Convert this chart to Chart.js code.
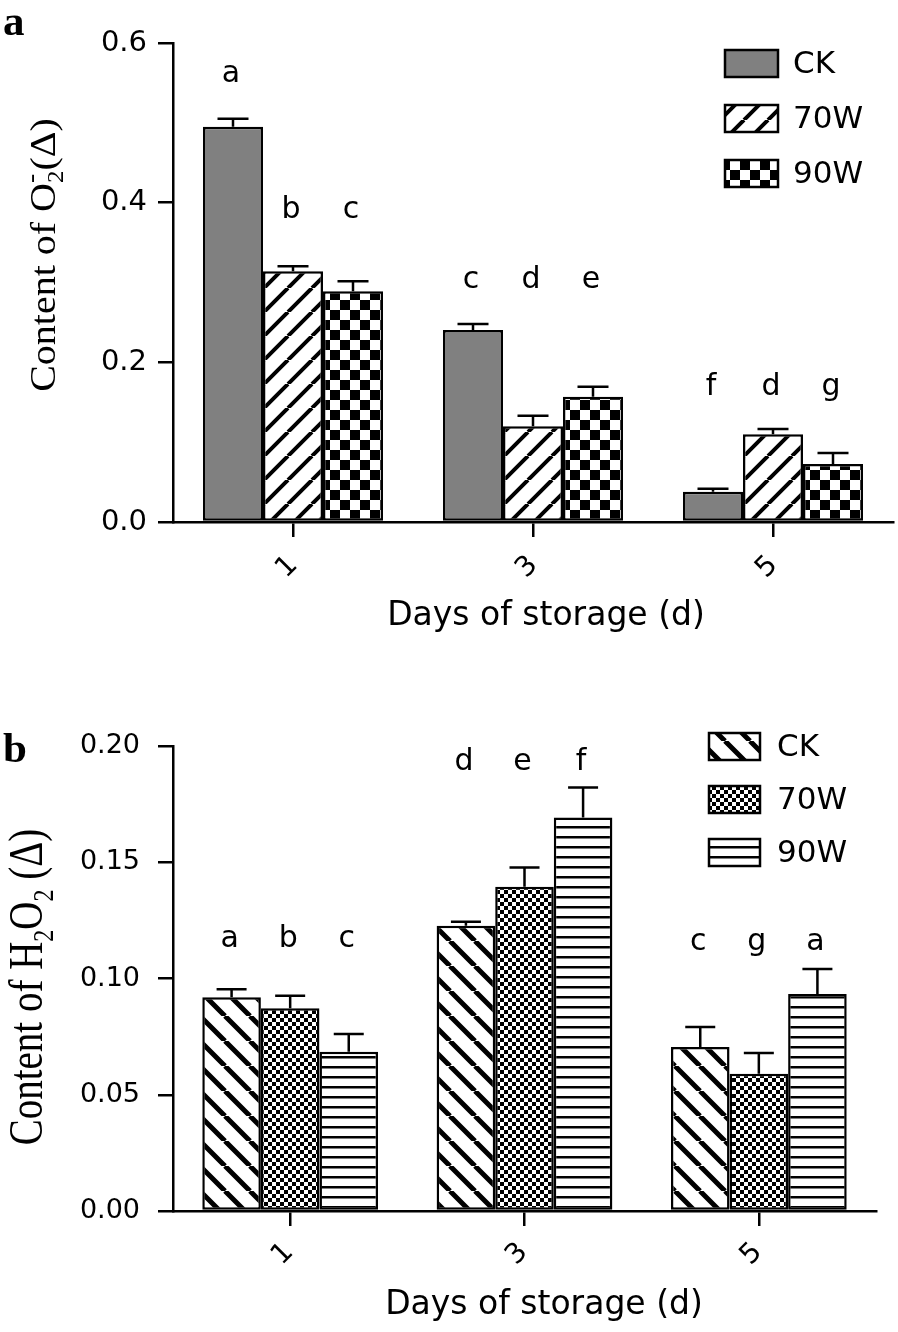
<!DOCTYPE html>
<html><head><meta charset="utf-8">
<script src="https://cdn.jsdelivr.net/npm/chart.js@4.4.0/dist/chart.umd.min.js"></script>
<style>
html,body{margin:0;padding:0;background:#fff;}
#wrap{position:relative;width:898px;height:1332px;overflow:hidden;}
.box{position:absolute;left:0;width:898px;height:666px;}
</style></head><body>
<div id="wrap">
<div class="box" style="top:0"><canvas id="ca"></canvas></div>
<div class="box" style="top:666px"><canvas id="cb"></canvas></div>
</div>
<script>
// ---------- data ----------
const categories = ['1', '3', '5'];
const seriesNames = ['CK', '70W', '90W'];

// panel a : O2- content
const a_CK = [0.495, 0.2405, 0.038];
const a_70W = [0.314, 0.120, 0.110];
const a_90W = [0.289, 0.157, 0.0727];
const a_CK_err = [0.010, 0.0075, 0.0037];
const a_70W_err = [0.0065, 0.013, 0.0065];
const a_90W_err = [0.0125, 0.0125, 0.0137];
const a_CK_letters = ['a', 'c', 'f'];
const a_70W_letters = ['b', 'd', 'd'];
const a_90W_letters = ['c', 'e', 'g'];
const a_CK_letterY = [0.551, 0.2928, 0.159];
const a_70W_letterY = [0.381, 0.2928, 0.159];
const a_90W_letterY = [0.381, 0.2928, 0.159];
const a_yTicks = [0, 0.2, 0.4, 0.6];
const a_yTickLabels = ['0.0', '0.2', '0.4', '0.6'];

// panel b : H2O2 content
const b_CK = [0.0919, 0.1227, 0.0705];
const b_70W = [0.0872, 0.1395, 0.059];
const b_90W = [0.0685, 0.1692, 0.0933];
const b_CK_err = [0.0035, 0.0017, 0.0086];
const b_70W_err = [0.0054, 0.0082, 0.009];
const b_90W_err = [0.0076, 0.013, 0.0108];
const b_CK_letters = ['a', 'd', 'c'];
const b_70W_letters = ['b', 'e', 'g'];
const b_90W_letters = ['c', 'f', 'a'];
const b_CK_letterY = [0.1135, 0.1897, 0.1123];
const b_70W_letterY = [0.1135, 0.1897, 0.1123];
const b_90W_letterY = [0.1135, 0.1897, 0.1123];
const b_yTicks = [0, 0.05, 0.10, 0.15, 0.20];
const b_yTickLabels = ['0.00', '0.05', '0.10', '0.15', '0.20'];

const xTitle = 'Days of storage (d)';

// ---------- patterns ----------
const PC = document.createElement('canvas').getContext('2d');
function patStripe(dir, s, lw) {
  const c = document.createElement('canvas'); c.width = s; c.height = s;
  const g = c.getContext('2d');
  g.fillStyle = '#fff'; g.fillRect(0, 0, s, s);
  g.strokeStyle = '#000'; g.lineWidth = lw; g.beginPath();
  for (const k of [-1, 0, 1]) {
    if (dir === '/') { g.moveTo(k * s, s); g.lineTo(k * s + s, 0); }
    else { g.moveTo(k * s, 0); g.lineTo(k * s + s, s); }
  }
  g.stroke();
  return PC.createPattern(c, 'repeat');
}
function patChecker(cell) {
  const c = document.createElement('canvas'); c.width = 2 * cell; c.height = 2 * cell;
  const g = c.getContext('2d');
  g.fillStyle = '#fff'; g.fillRect(0, 0, 2 * cell, 2 * cell);
  g.fillStyle = '#000'; g.fillRect(0, 0, cell, cell); g.fillRect(cell, cell, cell, cell);
  return PC.createPattern(c, 'repeat');
}
function patHLines(period, lw) {
  const c = document.createElement('canvas'); c.width = 4; c.height = period;
  const g = c.getContext('2d');
  g.fillStyle = '#fff'; g.fillRect(0, 0, 4, period);
  g.fillStyle = '#000'; g.fillRect(0, 0, 4, lw);
  return PC.createPattern(c, 'repeat');
}

// ---------- rich text helper ----------
function drawRich(ctx, segs, F, family, cx, cy, rotate, cross) {
  ctx.save();
  let x = 0;
  segs.forEach((s, i) => {
    ctx.font = `${Math.round(F * (s.size || 1))}px ${family}`;
    s.w = ctx.measureText(s.t).width;
    if (s.stack) { s.x = segs[i - 1].x; x = Math.max(x, s.x + s.w); }
    else { s.x = x; x += s.w; }
  });
  const total = x;
  ctx.translate(cx, cy);
  if (rotate) ctx.rotate(-Math.PI / 2);
  ctx.scale(1, cross);
  ctx.textAlign = 'left'; ctx.textBaseline = 'alphabetic'; ctx.fillStyle = '#000';
  segs.forEach(s => {
    ctx.font = `${Math.round(F * (s.size || 1))}px ${family}`;
    ctx.fillText(s.t, s.x - total / 2, (s.dy || 0) * F);
  });
  ctx.restore();
}

const SANS = '"DejaVu Sans", "Liberation Sans", sans-serif';
const SERIF = '"Liberation Serif", "DejaVu Serif", serif';

function makeChart(id, S) {
  const datasets = S.series.map((vals, i) => ({
    label: seriesNames[i], data: vals, backgroundColor: S.fills[i],
    borderColor: '#000', borderWidth: 2.5, borderSkipped: false,
    barPercentage: 1.0, categoryPercentage: 0.75
  }));
  const deco = {
    id: 'deco' + id,
    afterDatasetsDraw(chart) {
      const ctx = chart.ctx, ys = chart.scales.y;
      ctx.save();
      ctx.strokeStyle = '#000'; ctx.lineWidth = 2.5;
      S.series.forEach((vals, i) => {
        const meta = chart.getDatasetMeta(i);
        meta.data.forEach((el, j) => {
          const x = el.x;
          const y0 = ys.getPixelForValue(vals[j]);
          const y1 = ys.getPixelForValue(vals[j] + S.errs[i][j]);
          ctx.beginPath();
          ctx.moveTo(x, y0); ctx.lineTo(x, y1);
          ctx.moveTo(x - S.cap / 2, y1); ctx.lineTo(x + S.cap / 2, y1);
          ctx.stroke();
          ctx.font = `${S.letterSize}px ${SANS}`; ctx.fillStyle = '#000';
          ctx.textAlign = 'center'; ctx.textBaseline = 'alphabetic';
          ctx.fillText(S.letters[i][j], x - 2, ys.getPixelForValue(S.letterY[i][j]));
        });
      });
      ctx.restore();
    },
    afterDraw(chart) {
      const ctx = chart.ctx;
      ctx.save();
      // legend
      const L = S.legend;
      S.fills.forEach((f, i) => {
        const y = L.y + i * L.dy;
        ctx.fillStyle = f; ctx.fillRect(L.x, y, L.w, L.h);
        ctx.strokeStyle = '#000'; ctx.lineWidth = 2.5; ctx.strokeRect(L.x, y, L.w, L.h);
        ctx.fillStyle = '#000'; ctx.font = `${L.size}px ${SANS}`;
        ctx.textAlign = 'left'; ctx.textBaseline = 'middle';
        ctx.fillText(seriesNames[i], L.tx, y + L.h / 2 + 1);
      });
      // panel letter
      ctx.font = `bold ${S.panel.size}px ${SERIF}`; ctx.textAlign = 'left'; ctx.textBaseline = 'alphabetic';
      ctx.fillText(S.panel.t, S.panel.x, S.panel.y);
      // x title
      ctx.font = `${S.xt.size}px ${SANS}`; ctx.textAlign = 'center'; ctx.textBaseline = 'middle';
      ctx.fillText(xTitle, S.xt.x, S.xt.y);
      ctx.restore();
      // y title
      drawRich(ctx, S.yt.segs, S.yt.size, SERIF, S.yt.x, S.yt.y, true, S.yt.cross);
    }
  };
  const gridCfg = {
    display: true, offset: false, drawOnChartArea: false, drawTicks: true,
    tickLength: 15, tickWidth: 2.5, tickColor: '#000', color: '#000', lineWidth: 2.5
  };
  return new Chart(document.getElementById(id), {
    type: 'bar',
    data: { labels: categories, datasets },
    options: {
      responsive: true, maintainAspectRatio: false, animation: false, devicePixelRatio: 1,
      layout: { padding: { top: S.padTop, right: S.padRight, left: 0, bottom: 0 } },
      plugins: { legend: { display: false }, tooltip: { enabled: false } },
      scales: {
        x: {
          type: 'category', offset: true,
          grid: gridCfg,
          border: { display: true, color: '#000', width: 2.5 },
          ticks: {
            color: '#000', font: { family: SANS, size: S.xTickSize, lineHeight: 1 },
            minRotation: 45, maxRotation: 45, autoSkip: false,
            padding: S.xTickPad, labelOffset: S.xLabelOffset
          },
          afterFit(s) { s.height = S.xAxisH; }
        },
        y: {
          min: 0, max: S.yMax,
          afterBuildTicks(s) { s.ticks = S.yTicks.map(v => ({ value: v })); },
          grid: gridCfg,
          border: { display: true, color: '#000', width: 2.5 },
          ticks: {
            color: '#000', font: { family: SANS, size: S.yTickSize },
            padding: S.yTickPad, callback: (v, i) => S.yTickLabels[i]
          },
          afterFit(s) { s.width = 173; }
        }
      }
    },
    plugins: [deco]
  });
}

// ---------- panel a ----------
makeChart('ca', {
  series: [a_CK, a_70W, a_90W],
  errs: [a_CK_err, a_70W_err, a_90W_err],
  letters: [a_CK_letters, a_70W_letters, a_90W_letters],
  letterY: [a_CK_letterY, a_70W_letterY, a_90W_letterY],
  fills: ['#808080', patStripe('/', 24, 4), patChecker(10)],
  yMax: 0.6, yTicks: a_yTicks, yTickLabels: a_yTickLabels,
  padTop: 43, padRight: 5, xAxisH: 144,
  xTickSize: 28, xTickPad: 14, xLabelOffset: 0.5,
  yTickSize: 29, yTickPad: 11,
  cap: 31, letterSize: 30,
  legend: { x: 725, y: 50, w: 53, h: 27, dy: 55, tx: 793, size: 31 },
  panel: { t: 'a', x: 3, y: 35, size: 43 },
  xt: { x: 546, y: 616, size: 33 },
  yt: {
    x: 55, y: 255, size: 40, cross: 0.9,
    segs: [{ t: 'Content of O' }, { t: '2', size: 0.62, dy: 0.22 }, { t: '-', size: 0.7, dy: -0.45, stack: true }, { t: '(\u0394)' }]
  }
});

// ---------- panel b ----------
makeChart('cb', {
  series: [b_CK, b_70W, b_90W],
  errs: [b_CK_err, b_70W_err, b_90W_err],
  letters: [b_CK_letters, b_70W_letters, b_90W_letters],
  letterY: [b_CK_letterY, b_70W_letterY, b_90W_letterY],
  fills: [patStripe('\\', 25, 5), patChecker(4), patHLines(10, 2.5)],
  yMax: 0.2, yTicks: b_yTicks, yTickLabels: b_yTickLabels,
  padTop: 80, padRight: 22, xAxisH: 121,
  xTickSize: 28, xTickPad: 12, xLabelOffset: -1,
  yTickSize: 27, yTickPad: 18,
  cap: 30, letterSize: 30,
  legend: { x: 709, y: 67, w: 51, h: 27, dy: 53, tx: 777, size: 31 },
  panel: { t: 'b', x: 3, y: 96, size: 43 },
  xt: { x: 544, y: 639, size: 33 },
  yt: {
    x: 42, y: 321, size: 39, cross: 1.25,
    segs: [{ t: 'Content of H' }, { t: '2', size: 0.62, dy: 0.22 }, { t: 'O' }, { t: '2', size: 0.62, dy: 0.22 }, { t: ' (\u0394)' }]
  }
});
</script>
</body></html>
